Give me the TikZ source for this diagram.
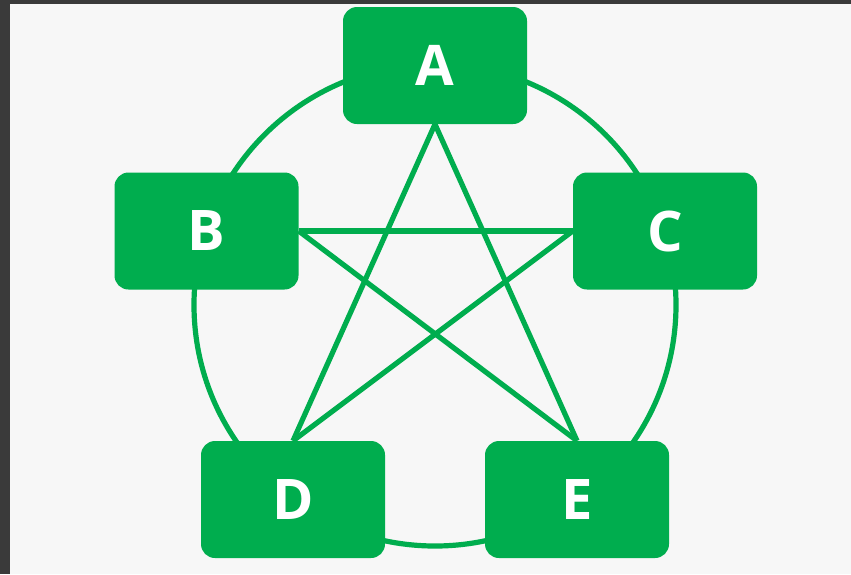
\documentclass[tikz,border=0pt]{standalone}
\usepackage{fontspec}
\setsansfont{Open Sans}
\usepackage{tikz}
\definecolor{nodegreen}{RGB}{0,173,78}
\definecolor{framegray}{RGB}{58,58,58}
\definecolor{paper}{RGB}{247,247,247}

\begin{document}
\begin{tikzpicture}[x=1pt,y=-1pt,
    box/.style={fill=nodegreen, rounded corners=14pt, inner sep=0pt,
        minimum width=184pt, minimum height=117pt, text=white,
        font=\sffamily\bfseries\fontsize{56}{56}\selectfont},
    link/.style={nodegreen, line width=5.2pt}]
    % Draw frame and background
    \fill[framegray] (0,0) rectangle (851,574);
    \fill[paper] (10,4) rectangle (851,574);
    \useasboundingbox (0,0) rectangle (851,574);

    % Draw ring behind the boxes
    \draw[link] (435,305) circle[radius=241pt];

    % Draw boxes
    \node[box] (A) at (435,65.5) {A};
    \node[box] (B) at (206.5,231) {B};
    \node[box] (C) at (665,231) {C};
    \node[box] (D) at (293,499.5) {D};
    \node[box] (E) at (577,499.5) {E};

    % Draw star
    \draw[link] (A.south) -- (D.north);
    \draw[link] (A.south) -- (E.north);
    \draw[link] (B.east) -- (C.west);
    \draw[link] (B.east) -- (E.north);
    \draw[link] (C.west) -- (D.north);
\end{tikzpicture}
\end{document}
